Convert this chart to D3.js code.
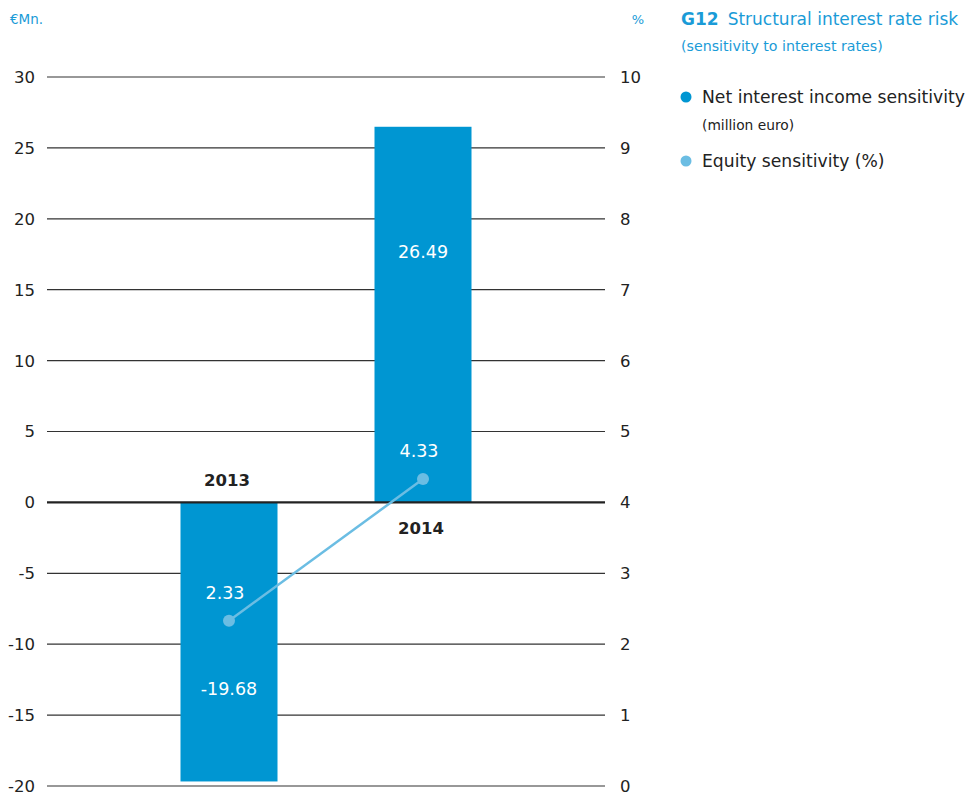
<!DOCTYPE html>
<html>
<head>
<meta charset="utf-8">
<script src="https://cdn.jsdelivr.net/npm/d3@7"></script>
<style>
  html, body { margin: 0; padding: 0; background: #fff; }
  svg text { font-family: "DejaVu Sans", "Liberation Sans", Arial, sans-serif; }
</style>
</head>
<body>
<svg id="chart" width="971" height="794"></svg>
<script>
// Data
const years = ["2013", "2014"];
const netInterestIncome = [-19.68, 26.49];   // € million (left axis)
const equitySensitivity = [2.33, 4.33];      // % (right axis)
const leftTicks = [30, 25, 20, 15, 10, 5, 0, -5, -10, -15, -20];
const rightTicks = [10, 9, 8, 7, 6, 5, 4, 3, 2, 1, 0];

const barColor = "#0096d2";
const lineColor = "#6bbde3";
const titleColor = "#1a9bd7";
const textColor = "#222";

const svg = d3.select("#chart");

const plotLeft = 47, plotRight = 605;
const yL = d3.scaleLinear().domain([-20, 30]).range([786, 77]);
const yR = d3.scaleLinear().domain([0, 10]).range([786, 77]);
const x = d3.scaleBand().domain(years).range([132, 520]).paddingInner(0.5).paddingOuter(0.25);

// Gridlines + tick labels
svg.append("g").selectAll("line").data(leftTicks.filter(d => d !== 0)).join("line")
  .attr("x1", plotLeft).attr("x2", plotRight)
  .attr("y1", d => yL(d)).attr("y2", d => yL(d))
  .attr("stroke", "#333").attr("stroke-width", 1.2);

svg.append("g").selectAll("text").data(leftTicks).join("text")
  .attr("x", 35).attr("y", d => yL(d)).attr("dy", "0.36em")
  .attr("text-anchor", "end").attr("font-size", 16.5).attr("fill", textColor)
  .text(d => d);

svg.append("g").selectAll("text").data(rightTicks).join("text")
  .attr("x", 620).attr("y", d => yR(d)).attr("dy", "0.36em")
  .attr("text-anchor", "start").attr("font-size", 16.5).attr("fill", textColor)
  .text(d => d);

// Axis unit labels
svg.append("text").attr("x", 10).attr("y", 24).attr("font-size", 13.5)
  .attr("fill", titleColor).text("€Mn.");
svg.append("text").attr("x", 644).attr("y", 24).attr("font-size", 13)
  .attr("text-anchor", "end").attr("fill", titleColor).text("%");

// Bars
svg.append("g").selectAll("rect").data(years).join("rect")
  .attr("x", d => x(d))
  .attr("width", x.bandwidth())
  .attr("y", (d, i) => Math.min(yL(0), yL(netInterestIncome[i])))
  .attr("height", (d, i) => Math.abs(yL(netInterestIncome[i]) - yL(0)))
  .attr("fill", barColor);

// Zero line
svg.append("line")
  .attr("x1", plotLeft).attr("x2", plotRight)
  .attr("y1", yL(0)).attr("y2", yL(0))
  .attr("stroke", "#222").attr("stroke-width", 2.2);

// Bar value labels
svg.append("g").selectAll("text").data(years).join("text")
  .attr("x", d => x(d) + x.bandwidth() / 2)
  .attr("y", (d, i) => yL(netInterestIncome[i] * 2 / 3))
  .attr("dy", "0.36em").attr("text-anchor", "middle")
  .attr("font-size", 17.5).attr("fill", "#fff")
  .text((d, i) => netInterestIncome[i].toFixed(2));

// Year labels: above zero for the negative bar, below for the positive one
svg.append("g").selectAll("text").data(years).join("text")
  .attr("x", d => x(d) + x.bandwidth() / 2 - 2)
  .attr("y", (d, i) => netInterestIncome[i] < 0 ? yL(0) - 22 : yL(0) + 26)
  .attr("dy", "0.36em").attr("text-anchor", "middle")
  .attr("font-size", 16.5).attr("font-weight", "bold").attr("fill", textColor)
  .text(d => d);

// Equity sensitivity line
const line = d3.line()
  .x((d, i) => x(years[i]) + x.bandwidth() / 2)
  .y(d => yR(d));
svg.append("path").datum(equitySensitivity)
  .attr("d", line).attr("fill", "none")
  .attr("stroke", lineColor).attr("stroke-width", 2.5);
svg.append("g").selectAll("circle").data(equitySensitivity).join("circle")
  .attr("cx", (d, i) => x(years[i]) + x.bandwidth() / 2)
  .attr("cy", d => yR(d)).attr("r", 6)
  .attr("fill", lineColor);
svg.append("g").selectAll("text").data(equitySensitivity).join("text")
  .attr("x", (d, i) => x(years[i]) + x.bandwidth() / 2 - 4)
  .attr("y", d => yR(d) - 28)
  .attr("dy", "0.36em").attr("text-anchor", "middle")
  .attr("font-size", 17.5).attr("fill", "#fff")
  .text(d => d.toFixed(2));

// Title
const title = svg.append("text").attr("x", 681).attr("y", 25).attr("font-size", 17).attr("fill", titleColor);
title.append("tspan").attr("font-weight", "bold").text("G12");
title.append("tspan").attr("dx", 9).text("Structural interest rate risk");
svg.append("text").attr("x", 681).attr("y", 51).attr("font-size", 14.2)
  .attr("fill", titleColor).text("(sensitivity to interest rates)");

// Legend
const legend = [
  { label: "Net interest income sensitivity", sub: "(million euro)", color: barColor, y: 97 },
  { label: "Equity sensitivity (%)", sub: null, color: lineColor, y: 161 }
];
const lg = svg.append("g");
legend.forEach(l => {
  lg.append("circle").attr("cx", 686).attr("cy", l.y).attr("r", 5.5).attr("fill", l.color);
  lg.append("text").attr("x", 702).attr("y", l.y).attr("dy", "0.36em")
    .attr("font-size", 17.2).attr("fill", textColor).text(l.label);
  if (l.sub) {
    lg.append("text").attr("x", 702).attr("y", l.y + 28).attr("dy", "0.36em")
      .attr("font-size", 13.8).attr("fill", textColor).text(l.sub);
  }
});
</script>
</body>
</html>
